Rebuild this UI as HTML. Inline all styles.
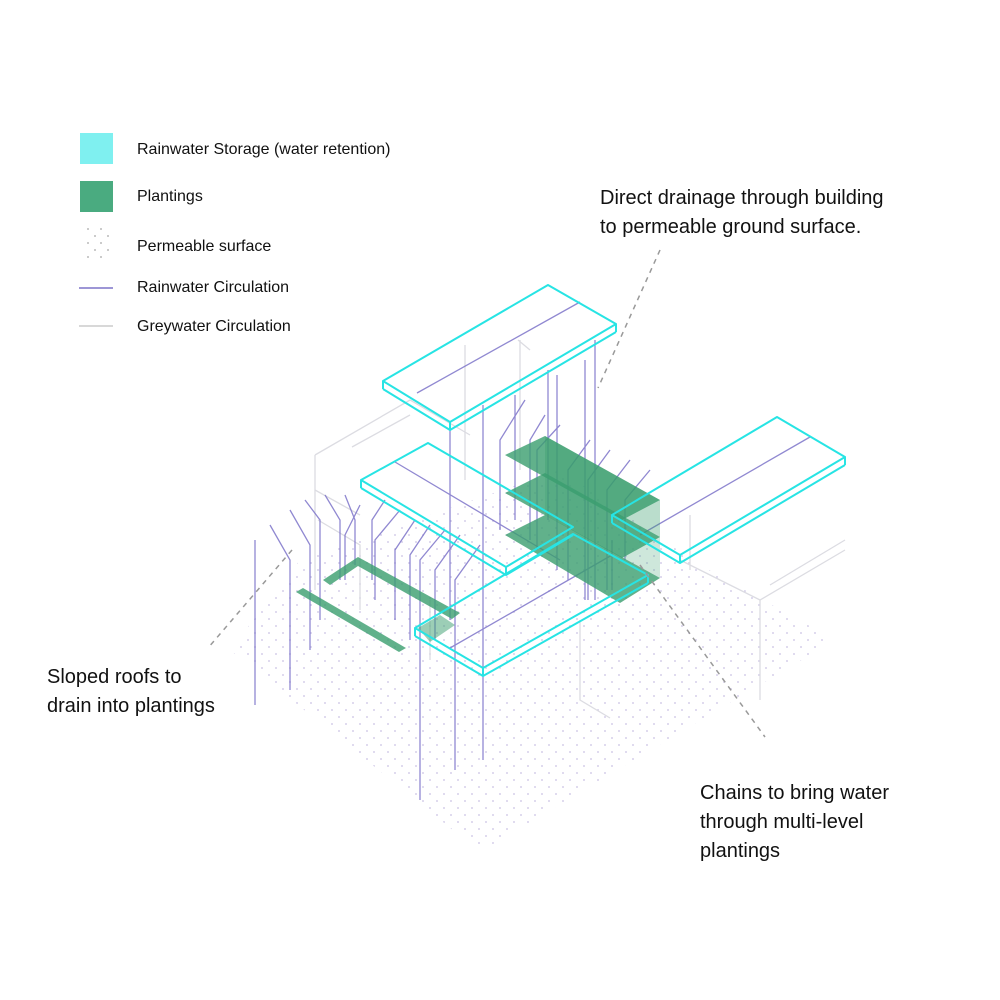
<!DOCTYPE html>
<html><head><meta charset="utf-8"><style>
html,body{margin:0;padding:0;background:#fff}
svg{display:block}
text{font-family:"Liberation Sans",sans-serif;fill:#111}
</style></head><body>
<svg width="1000" height="1000" viewBox="0 0 1000 1000" xmlns="http://www.w3.org/2000/svg">
<defs>
<pattern id="dots" width="14" height="14" patternUnits="userSpaceOnUse">
<circle cx="3" cy="3" r="1" fill="#d6d0ea"/><circle cx="10" cy="10" r="1" fill="#d6d0ea"/>
</pattern>
</defs>
<!-- ground dots -->
<polygon points="230,650 480,852 835,640 700,565 560,470 300,560" fill="url(#dots)"/>

<!-- grey building lines -->
<g stroke="#dcdce2" stroke-width="1.3" fill="none">
<polyline points="315,455 410,400 470,435"/>
<polyline points="315,455 315,590"/>
<polyline points="352,447 410,415"/>
<polyline points="315,490 360,515"/>
<polyline points="318,520 360,545 360,610"/>
<line x1="465" y1="345" x2="465" y2="480"/>
<line x1="520" y1="340" x2="520" y2="470"/>
<line x1="518" y1="340" x2="530" y2="350"/>
<polyline points="680,560 760,600 845,550"/>
<polyline points="760,600 760,700"/>
<polyline points="770,585 845,540"/>
<line x1="690" y1="515" x2="690" y2="570"/>
<polyline points="580,620 580,700 610,718"/>
<line x1="430" y1="600" x2="430" y2="660"/>
</g>

<!-- rainwater circulation lines -->
<g stroke="#7d74c9" stroke-width="1.3" fill="none" opacity="0.85">
<line x1="255" y1="540" x2="255" y2="705"/>
<polyline points="270,525 290,560 290,690"/>
<polyline points="290,510 310,545 310,650"/>
<polyline points="305,500 320,520 320,620"/>
<polyline points="325,495 340,520 340,580"/>
<polyline points="345,495 355,520 355,565"/>
<polyline points="360,505 345,535 345,580"/>
<polyline points="385,500 372,520 372,580"/>
<polyline points="400,510 375,540 375,600"/>
<polyline points="415,520 395,550 395,620"/>
<polyline points="430,525 410,555 410,640"/>
<polyline points="445,530 420,560 420,800"/>
<polyline points="460,535 435,570 435,640"/>
<polyline points="480,545 455,580 455,770"/>
<line x1="450" y1="425" x2="450" y2="620"/>
<line x1="483" y1="405" x2="483" y2="760"/>
<line x1="515" y1="395" x2="515" y2="520"/>
<polyline points="525,400 500,440 500,530"/>
<line x1="548" y1="370" x2="548" y2="520"/>
<polyline points="545,415 530,440 530,540"/>
<line x1="557" y1="375" x2="557" y2="570"/>
<polyline points="560,425 537,450 537,550"/>
<line x1="585" y1="360" x2="585" y2="600"/>
<polyline points="590,440 568,470 568,580"/>
<line x1="595" y1="340" x2="595" y2="600"/>
<polyline points="610,450 588,480 588,600"/>
<polyline points="630,460 607,490 607,590"/>
<polyline points="650,470 625,500 625,560"/>
<line x1="612" y1="540" x2="612" y2="590"/>
<line x1="417" y1="393" x2="580" y2="302"/>
<line x1="395" y1="462" x2="560" y2="560"/>
<line x1="450" y1="648" x2="612" y2="555"/>
<line x1="640" y1="535" x2="810" y2="437"/>
</g>

<!-- plantings -->
<g fill="#3a9e6e" fill-opacity="0.8">
<polygon points="505,455 545,436 660,500 622,520"/>
<polygon points="545,436 545,473 660,537 660,500" fill-opacity="0.35"/>
<polygon points="505,493 545,473 660,537 622,558"/>
<polygon points="545,473 545,515 660,578 660,537" fill-opacity="0.25"/>
<polygon points="505,535 545,515 660,578 620,603"/>
<polygon points="323,580 358,557 460,613 452,619 358,566 330,585"/>
<polygon points="296,592 303,588 406,648 399,652"/>
<polygon points="418,628 440,615 455,625 430,642" fill-opacity="0.5"/>
</g>

<!-- slabs -->
<g stroke="#27e4e4" stroke-width="2" fill="none" stroke-linejoin="round">
<polygon points="383,381 548,285 616,324 450,422"/>
<polyline points="383,389 450,430 616,332"/>
<line x1="383" y1="381" x2="383" y2="389"/><line x1="450" y1="422" x2="450" y2="430"/><line x1="616" y1="324" x2="616" y2="332"/>

<polygon points="361,480 428,443 573,527 506,567"/>
<polyline points="361,488 506,575 573,535"/>
<line x1="361" y1="480" x2="361" y2="488"/><line x1="506" y1="567" x2="506" y2="575"/>

<polygon points="415,628 573,534 648,575 483,668"/>
<polyline points="415,636 483,676 648,583"/>
<line x1="415" y1="628" x2="415" y2="636"/><line x1="483" y1="668" x2="483" y2="676"/><line x1="648" y1="575" x2="648" y2="583"/>

<polygon points="612,515 777,417 845,457 680,555"/>
<polyline points="612,523 680,563 845,465"/>
<line x1="612" y1="515" x2="612" y2="523"/><line x1="680" y1="555" x2="680" y2="563"/><line x1="845" y1="457" x2="845" y2="465"/>
</g>

<!-- leader lines -->
<g stroke="#999" stroke-width="1.5" stroke-dasharray="5,5" fill="none">
<line x1="660" y1="250" x2="598" y2="388"/>
<line x1="292" y1="550" x2="208" y2="648"/>
<line x1="640" y1="565" x2="765" y2="737"/>
</g>

<!-- legend -->
<rect x="80" y="133" width="33" height="31" fill="#7ff0f0"/>
<rect x="80" y="181" width="33" height="31" fill="#4aab80"/>
<g fill="#bbb">
<circle cx="88" cy="229" r="1"/><circle cx="101" cy="229" r="1"/><circle cx="95" cy="236" r="1"/><circle cx="108" cy="236" r="1"/>
<circle cx="88" cy="243" r="1"/><circle cx="101" cy="243" r="1"/><circle cx="95" cy="250" r="1"/><circle cx="108" cy="250" r="1"/>
<circle cx="88" cy="257" r="1"/><circle cx="101" cy="257" r="1"/>
</g>
<line x1="79" y1="288" x2="113" y2="288" stroke="#7d74c9" stroke-width="1.5"/>
<line x1="79" y1="326" x2="113" y2="326" stroke="#ccc" stroke-width="1.5"/>
<g font-size="16">
<text x="137" y="154">Rainwater Storage (water retention)</text>
<text x="137" y="201">Plantings</text>
<text x="137" y="251">Permeable surface</text>
<text x="137" y="292">Rainwater Circulation</text>
<text x="137" y="331">Greywater Circulation</text>
</g>
<g font-size="20">
<text x="600" y="204">Direct drainage through building</text>
<text x="600" y="233">to permeable ground surface.</text>
<text x="47" y="683">Sloped roofs to</text>
<text x="47" y="712">drain into plantings</text>
<text x="700" y="799">Chains to bring water</text>
<text x="700" y="828">through multi-level</text>
<text x="700" y="857">plantings</text>
</g>
</svg>
</body></html>
